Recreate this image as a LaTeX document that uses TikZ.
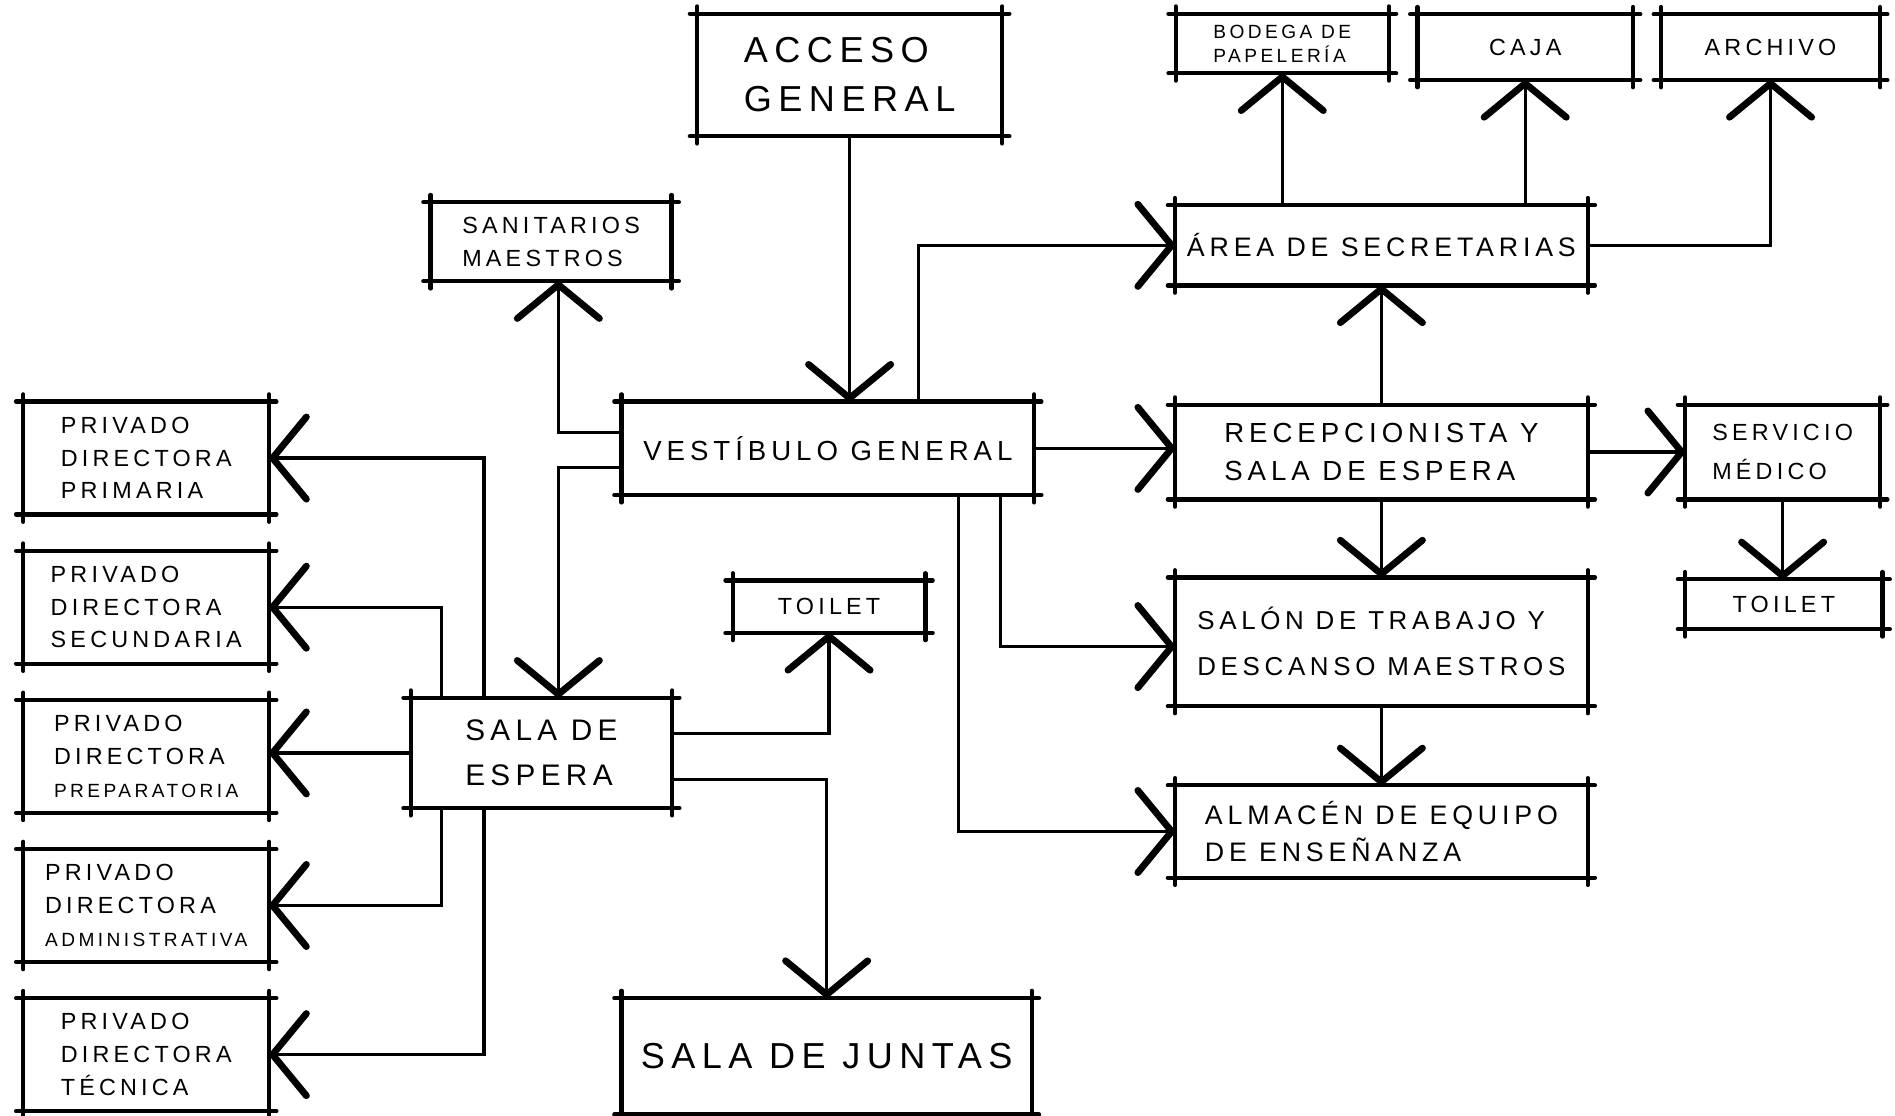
\documentclass[tikz,border=0pt]{standalone}
\usepackage{fontspec}
\newfontfamily\hand[LetterSpace=18]{Liberation Sans}
\usetikzlibrary{arrows.meta,positioning}
\tikzset{
  room/.style={rectangle,inner sep=0pt,align=left,font=\hand\fontsize{6.5}{10}\selectfont},
  small/.style={font=\hand\fontsize{5.5}{7.7}\selectfont},
  tiny/.style={font=\hand\fontsize{4.5}{5.6}\selectfont},
  big/.style={font=\hand\fontsize{8.5}{11.5}\selectfont},
  wh/.style 2 args={minimum width=#1cm,minimum height=#2cm},
  side/.style={line width=1pt,line cap=round},
  link/.style={line width=.8pt,-{Straight Barb[length=2.8mm,width=6.8mm,line width=1.6pt,round]}}
}
\newcommand{\narrow}[1]{{\fontsize{4.5}{7.7}\selectfont #1}}

\begin{document}
\begin{tikzpicture}
\useasboundingbox (0,0) rectangle (15.68,-9.23);
% centre column
\node[room,big,wh={2.51}{1.00}] (acceso) at (7.03,-.62) {ACCESO\\GENERAL};
\node[room,small,wh={1.98}{.64}] (sanit) at (4.56,-2.00) {SANITARIOS\\MAESTROS};
\node[room,wh={3.40}{.76}] (vest) at (6.85,-3.71) {VESTÍBULO GENERAL};
\node[room,wh={2.15}{.90},font=\hand\fontsize{7}{10.5}\selectfont] (espera) at (4.48,-6.23) {SALA DE\\ESPERA};
\node[room,small,wh={1.58}{.42}] (toiletM) at (6.86,-5.02) {TOILET};
\node[room,big,wh={3.38}{.95}] (juntas) at (6.84,-8.74) {SALA DE JUNTAS};
% right side
\node[room,tiny,wh={1.75}{.48}] (bodega) at (10.61,-.36) {BODEGA DE\\PAPELERÍA};
\node[room,small,wh={1.77}{.53}] (caja) at (12.62,-.39) {CAJA};
\node[room,small,wh={1.80}{.53}] (archivo) at (14.65,-.39) {ARCHIVO};
\node[room,wh={3.40}{.65},font=\hand\fontsize{6.3}{10}\selectfont] (secret) at (11.43,-2.03) {ÁREA DE SECRETARIAS};
\node[room,wh={3.40}{.77},font=\hand\fontsize{6.5}{8.8}\selectfont] (recep) at (11.43,-3.74) {RECEPCIONISTA Y\\SALA DE ESPERA};
\node[room,wh={1.60}{.77},font=\hand\fontsize{5.5}{9}\selectfont] (medico) at (14.75,-3.74) {SERVICIO\\MÉDICO};
\node[room,small,wh={1.62}{.40}] (toiletR) at (14.76,-5.00) {TOILET};
\node[room,wh={3.40}{1.05},font=\hand\fontsize{6.1}{10.8}\selectfont] (salon) at (11.43,-5.31) {SALÓN DE TRABAJO Y\\DESCANSO MAESTROS};
\node[room,wh={3.40}{.75},font=\hand\fontsize{6.3}{8.5}\selectfont] (almacen) at (11.43,-6.88) {ALMACÉN DE EQUIPO\\DE ENSEÑANZA};
% privados
\node[room,small,wh={2.02}{.92}] (priv1) at (1.21,-3.79) {PRIVADO\\DIRECTORA\\PRIMARIA};
\node[room,small,wh={2.02}{.92},below=.30 of priv1] (priv2) {PRIVADO\\DIRECTORA\\SECUNDARIA};
\node[room,small,wh={2.02}{.92},below=.30 of priv2] (priv3) {PRIVADO\\DIRECTORA\\\narrow{PREPARATORIA}};
\node[room,small,wh={2.02}{.92},below=.30 of priv3] (priv4) {PRIVADO\\DIRECTORA\\\narrow{ADMINISTRATIVA}};
\node[room,small,wh={2.02}{.92},below=.30 of priv4] (priv5) {PRIVADO\\DIRECTORA\\TÉCNICA};
% box sides, drawn a bit past the corners
\foreach \n in {acceso,sanit,vest,espera,toiletM,juntas,bodega,caja,archivo,secret,recep,medico,toiletR,salon,almacen,priv1,priv2,priv3,priv4,priv5}{
  \draw[side] ([xshift=-.6mm]\n.north west)--([xshift=.6mm]\n.north east);
  \draw[side] ([xshift=-.6mm]\n.south west)--([xshift=.6mm]\n.south east);
  \draw[side] ([yshift=.6mm]\n.north west)--([yshift=-.6mm]\n.south west);
  \draw[side] ([yshift=.6mm]\n.north east)--([yshift=-.6mm]\n.south east);}
% from the vestibule
\draw[link] (acceso.south) -- (acceso.south |- vest.north);
\draw[link] ([yshift=1.3mm]vest.west) -| ([xshift=.6mm]sanit.south);
\draw[link] ([yshift=-1.6mm]vest.west) -| ([xshift=1.4mm]espera.north);
\draw[link] ([xshift=7.5mm]vest.north) |- (secret.west);
\draw[link] (vest.east) -- (vest.east -| recep.west);
\draw[link] ([xshift=14.3mm]vest.south) |- ([yshift=-.4mm]salon.west);
\draw[link] ([xshift=10.8mm]vest.south) |- (almacen.west);
% secretaries and reception
\draw[link] (bodega.south |- secret.north) -- (bodega.south);
\draw[link] (caja.south |- secret.north) -- (caja.south);
\draw[link] (secret.east) -| (archivo.south);
\draw[link] (recep.north) -- (secret.south);
\draw[link] (recep.east) -- (medico.west);
\draw[link] (recep.south) -- (salon.north);
\draw[link] (salon.south) -- (almacen.north);
\draw[link] (medico.south) -- (medico.south |- toiletR.north);
% from the waiting room
\draw[link] ([xshift=-4.75mm]espera.north) |- (priv1.east);
\draw[link] ([xshift=-8.25mm]espera.north) |- (priv2.east);
\draw[link] (espera.west) -- (espera.west -| priv3.east);
\draw[link] ([xshift=-8.25mm]espera.south) |- (priv4.east);
\draw[link] ([xshift=-4.75mm]espera.south) |- (priv5.east);
\draw[link] ([yshift=1.6mm]espera.east) -| (toiletM.south);
\draw[link] ([yshift=-2.2mm]espera.east) -| (juntas.north);
\end{tikzpicture}
\end{document}
